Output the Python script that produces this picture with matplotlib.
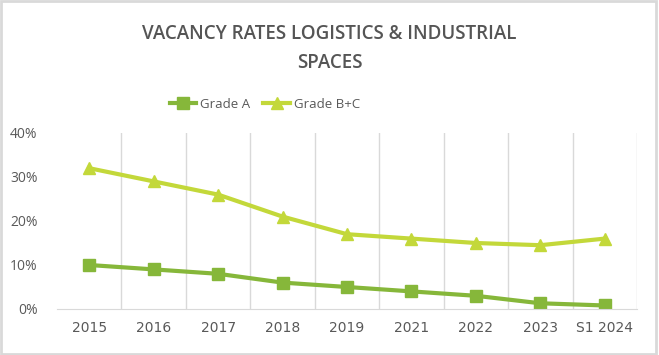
import matplotlib
matplotlib.use("Agg")
import matplotlib.pyplot as plt
from matplotlib.patches import Rectangle

categories = ["2015", "2016", "2017", "2018", "2019", "2021", "2022", "2023", "S1 2024"]
grade_a = [10, 9, 8, 6, 5, 4, 3, 1.3, 0.8]
grade_bc = [32, 29, 26, 21, 17, 16, 15, 14.5, 16]
y_ticks = [0, 10, 20, 30, 40]
title = "VACANCY RATES LOGISTICS & INDUSTRIAL\nSPACES"

col_a = "#86B73A"
col_bc = "#C3D83A"
txt = "#595959"
grid = "#D9D9D9"
font = "Open Sans"

fig = plt.figure(figsize=(6.59, 3.55), dpi=100)
fig.patches.append(Rectangle((0.002, 0.004), 0.994, 0.992, transform=fig.transFigure,
                             fill=False, edgecolor="#D9D9D9", linewidth=2))
ax = fig.add_axes([57/659, 1-309/355, 580/659, 176/355])
x = list(range(len(categories)))
la, = ax.plot(x, grade_a, color=col_a, lw=3, marker="s", ms=9, label="Grade A")
lb, = ax.plot(x, grade_bc, color=col_bc, lw=3, marker="^", ms=9, label="Grade B+C")
ax.set_xlim(-0.5, len(categories) - 0.5)
ax.set_ylim(0, 40)
ax.set_yticks(y_ticks)
ax.set_yticklabels([f"{v}%" for v in y_ticks], fontsize=10, color=txt, family=font)
ax.set_xticks(x)
ax.set_xticklabels(categories, fontsize=10, color=txt)
for xv in [i + 0.5 for i in range(len(categories))]:
    ax.axvline(xv, color=grid, lw=1, zorder=0)
for s in ["top", "right", "left"]:
    ax.spines[s].set_visible(False)
ax.spines["bottom"].set_color(grid)
ax.tick_params(axis="both", length=0)
ax.tick_params(axis="x", pad=9)
ax.tick_params(axis="y", pad=14)
fig.text(0.5, 1-48.5/355, title, ha="center", va="center", fontsize=13.5, color="#555555",
         family=font, weight=600, linespacing=1.6)
fig.legend(handles=[la, lb], loc="center", bbox_to_anchor=(0.402, 1-104/355), ncol=2,
           frameon=False, prop={"family": font, "size": 9.5}, labelcolor=txt,
           handlelength=2.0, columnspacing=1.0, handletextpad=0.3)
fig.savefig("out.png", dpi=100)
